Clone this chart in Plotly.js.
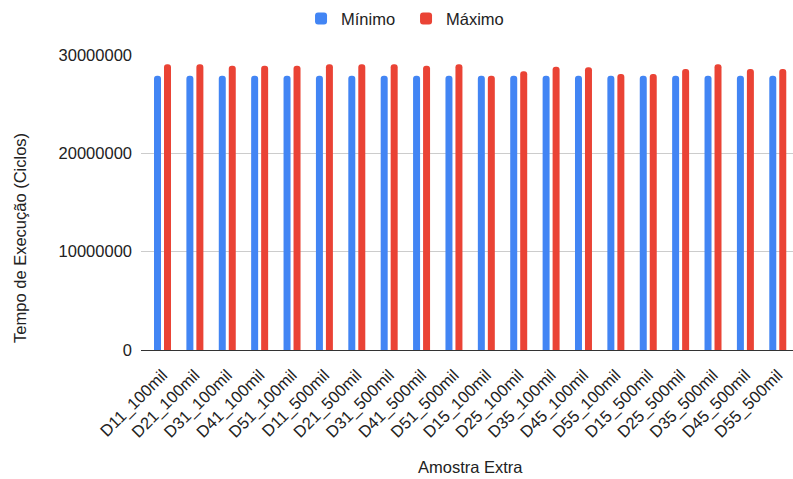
<!DOCTYPE html>
<html>
<head>
<meta charset="utf-8">
<script src="https://cdn.plot.ly/plotly-3.0.1.min.js"></script>
<style>
  html, body { margin: 0; padding: 0; background: #fff; }
  #chart { width: 793px; height: 479px; }
</style>
</head>
<body>
<div id="chart"></div>
<script>
// Sample labels along the x axis
const amostras = [
  'D11_100mil', 'D21_100mil', 'D31_100mil', 'D41_100mil', 'D51_100mil',
  'D11_500mil', 'D21_500mil', 'D31_500mil', 'D41_500mil', 'D51_500mil',
  'D15_100mil', 'D25_100mil', 'D35_100mil', 'D45_100mil', 'D55_100mil',
  'D15_500mil', 'D25_500mil', 'D35_500mil', 'D45_500mil', 'D55_500mil'
];

// Execution time in cycles
const minimo = [
  27900000, 27900000, 27900000, 27900000, 27900000,
  27900000, 27900000, 27900000, 27900000, 27900000,
  27900000, 27900000, 27900000, 27900000, 27900000,
  27900000, 27900000, 27900000, 27900000, 27900000
];
const maximo = [
  29050000, 29050000, 28900000, 28900000, 28900000,
  29050000, 29050000, 29050000, 28900000, 29050000,
  27900000, 28350000, 28800000, 28750000, 28070000,
  28070000, 28580000, 29050000, 28580000, 28580000
];

const yTicks = [0, 10000000, 20000000, 30000000];
const yTickText = ['0', '10000000', '20000000', '30000000'];

const FONT = 'Liberation Sans, Arial, sans-serif';
const TEXT = '#222222';

const traces = [
  {
    type: 'bar', name: 'Mínimo', x: amostras, y: minimo,
    marker: { color: '#4285F4', cornerradius: 3 },
    hoverinfo: 'x+y'
  },
  {
    type: 'bar', name: 'Máximo', x: amostras, y: maximo,
    marker: { color: '#EA4335', cornerradius: 3 },
    hoverinfo: 'x+y'
  }
];

const layout = {
  width: 793, height: 479,
  margin: { l: 141, r: 0, t: 55, b: 129 },
  paper_bgcolor: '#ffffff',
  plot_bgcolor: '#ffffff',
  font: { family: FONT, size: 16.5, color: TEXT },
  barmode: 'group',
  bargap: 0.383,
  bargroupgap: 0.3,
  showlegend: true,
  legend: {
    orientation: 'h',
    x: 0.4065, xanchor: 'center',
    y: 1.123, yanchor: 'middle',
    font: { family: FONT, size: 16.5, color: TEXT },
    itemwidth: 30,
    entrywidth: 60
  },
  xaxis: {
    type: 'category',
    range: [-0.664, 19.47],
    tickangle: -45,
    ticks: '',
    ticklabelstandoff: 8,
    showgrid: false,
    showline: true, linecolor: '#333333', linewidth: 1,
    tickfont: { family: FONT, size: 16.5, color: TEXT },
    automargin: false
  },
  yaxis: {
    range: [0, 30000000],
    tickvals: yTicks,
    ticktext: yTickText,
    ticks: '',
    ticklabelstandoff: 8,
    showgrid: true, gridcolor: '#cccccc', gridwidth: 1,
    zeroline: false,
    showline: false,
    tickfont: { family: FONT, size: 16.5, color: TEXT },
    automargin: false
  },
  annotations: [
    {
      text: 'Amostra Extra',
      xref: 'paper', yref: 'paper',
      x: 0.505, y: -0.397,
      xanchor: 'center', yanchor: 'middle',
      showarrow: false,
      font: { family: FONT, size: 16.5, color: TEXT }
    },
    {
      text: 'Tempo de Execução (Ciclos)',
      xref: 'paper', yref: 'paper',
      x: -0.1856, y: 0.38,
      xanchor: 'center', yanchor: 'middle',
      textangle: -90,
      showarrow: false,
      font: { family: FONT, size: 16.5, color: TEXT }
    }
  ]
};

Plotly.newPlot('chart', traces, layout, { displayModeBar: false, staticPlot: true });
</script>
</body>
</html>
